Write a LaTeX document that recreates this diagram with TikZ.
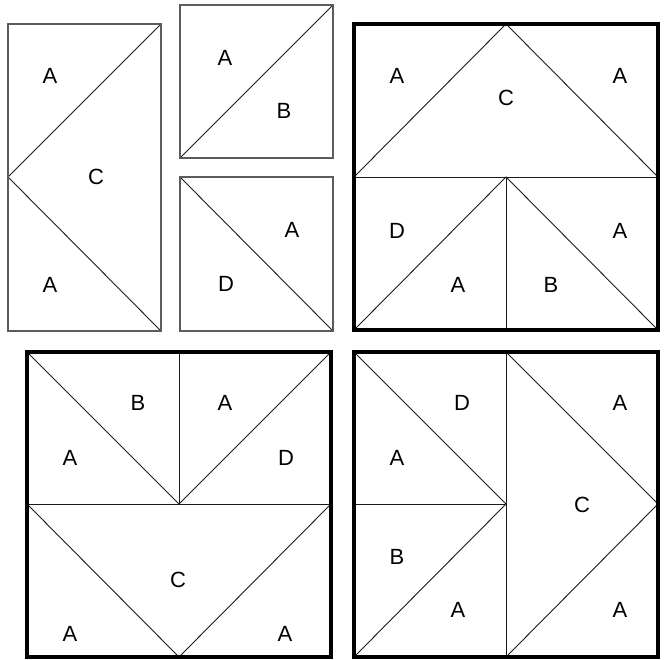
\documentclass[tikz,border=0pt]{standalone}
\usepackage{fontspec}
\setmainfont{Liberation Sans}
\usepackage{tikz}
\definecolor{qFrame}{HTML}{5C5C5C}
\definecolor{qLine}{HTML}{1A1A1A}
\tikzset{
  frame/.style={draw=qFrame, line width=1.6pt},
  block/.style={draw=black, line width=4.5pt},
  seam/.style={draw=qLine, line width=0.9pt},
  patch/.style={font=\fontsize{22}{22}\selectfont, inner sep=0pt}
}

\begin{document}
\begin{tikzpicture}[x=1pt, y=-1pt]
  \useasboundingbox (0,0) rectangle (666,660);

  % loose pieces
  \draw[seam] (161,24) -- (8,177) -- (161,331);
  \draw[seam] (180,158) -- (333,5);
  \draw[seam] (180,177) -- (333,331);
  \draw[frame] (8,24) rectangle (161,331);
  \draw[frame] (180,5) rectangle (333,158);
  \draw[frame] (180,177) rectangle (333,331);

  \node[patch] (rA1) at (50,76) {A};
  \node[patch] (rC) at (96,177) {C};
  \node[patch] (rA2) at (50,285) {A};
  \node[patch] (sA1) at (225,58) {A};
  \node[patch] (sB) at (284,111) {B};
  \node[patch] (sA2) at (292,230) {A};
  \node[patch] (sD) at (226,284) {D};

  % block one
  \draw[seam] (354,177) -- (658,177);
  \draw[seam] (354,177) -- (506,24) -- (658,177);
  \draw[seam] (506,177) -- (506,330);
  \draw[seam] (354,330) -- (506,177) -- (658,330);
  \draw[block] (354,24) rectangle (658,330);

  \node[patch] (oA1) at (397,76) {A};
  \node[patch] (oC) at (506,98) {C};
  \node[patch] (oA2) at (620,76) {A};
  \node[patch] (oD) at (397,231) {D};
  \node[patch] (oA3) at (620,231) {A};
  \node[patch] (oA4) at (458,285) {A};
  \node[patch] (oB) at (551,285) {B};

  % block two
  \draw[seam] (179,352) -- (179,504);
  \draw[seam] (27,504) -- (331,504);
  \draw[seam] (27,352) -- (179,504) -- (331,352);
  \draw[seam] (27,504) -- (179,657) -- (331,504);
  \draw[block] (27,352) rectangle (331,657);

  \node[patch] (tB) at (138,403) {B};
  \node[patch] (tA1) at (225,403) {A};
  \node[patch] (tA2) at (70,458) {A};
  \node[patch] (tD) at (286,458) {D};
  \node[patch] (tC) at (178,580) {C};
  \node[patch] (tA3) at (70,634) {A};
  \node[patch] (tA4) at (285,634) {A};

  % block three
  \draw[seam] (506,352) -- (506,657);
  \draw[seam] (354,504) -- (506,504);
  \draw[seam] (354,352) -- (506,504) -- (354,657);
  \draw[seam] (506,352) -- (658,504) -- (506,657);
  \draw[block] (354,352) rectangle (658,657);

  \node[patch] (hD) at (462,403) {D};
  \node[patch] (hA1) at (397,458) {A};
  \node[patch] (hB) at (397,557) {B};
  \node[patch] (hA2) at (458,610) {A};
  \node[patch] (hA3) at (620,403) {A};
  \node[patch] (hC) at (582,505) {C};
  \node[patch] (hA4) at (620,610) {A};
\end{tikzpicture}
\end{document}
